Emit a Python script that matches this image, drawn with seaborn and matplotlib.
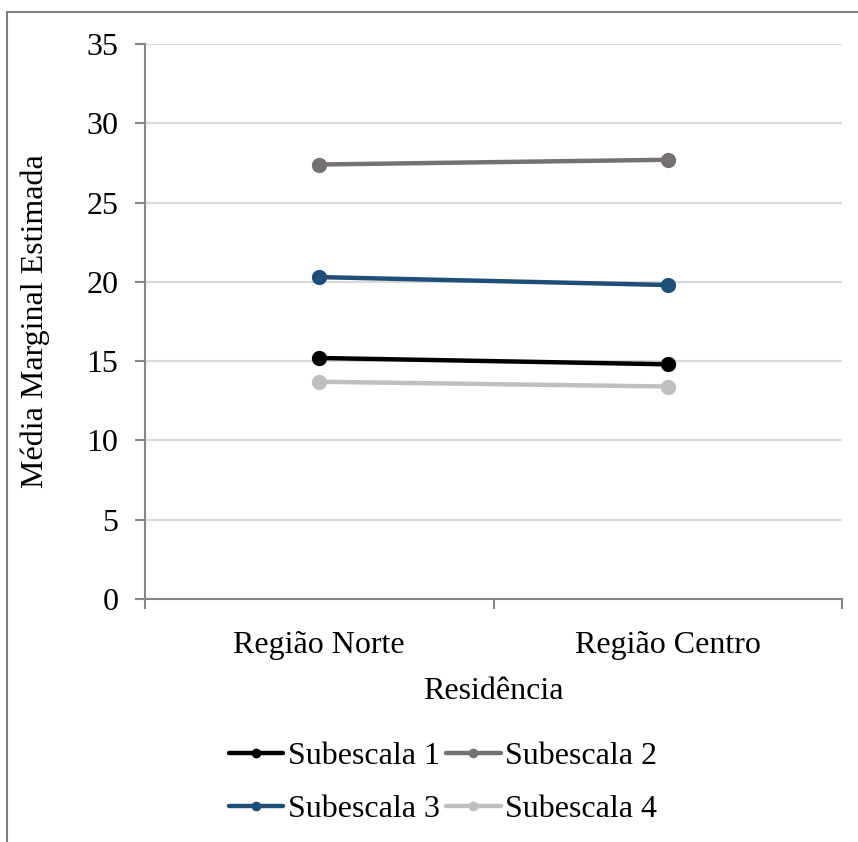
import matplotlib
matplotlib.use("Agg")
import matplotlib.pyplot as plt
from matplotlib.lines import Line2D
from matplotlib.ticker import FixedLocator, MultipleLocator
import seaborn as sns
import pandas as pd

# Estimated marginal means by residence region
regioes = ["Região Norte", "Região Centro"]
subescalas = ["Subescala 1", "Subescala 2", "Subescala 3", "Subescala 4"]
subescala_1 = [15.2, 14.8]
subescala_2 = [27.4, 27.7]
subescala_3 = [20.3, 19.8]
subescala_4 = [13.7, 13.4]
cores = ["#000000", "#767171", "#1F4E79", "#BFBFBF"]

valores = [subescala_1, subescala_2, subescala_3, subescala_4]
df = pd.DataFrame(
    [(r, s, v) for s, vals in zip(subescalas, valores) for r, v in zip(regioes, vals)],
    columns=["Residência", "Subescala", "Média"],
)

sns.set_theme(style="white")
plt.rcParams["font.family"] = ["Liberation Serif", "DejaVu Serif"]
plt.rcParams["font.size"] = 23
plt.rcParams["text.color"] = "black"
plt.rcParams["axes.labelcolor"] = "black"

fig = plt.figure(figsize=(8.58, 8.42), dpi=100)
ax = fig.add_axes([145 / 858, 1 - 599 / 842, (842 - 145) / 858, (599 - 44) / 842])

sns.lineplot(
    data=df, x="Residência", y="Média", hue="Subescala", hue_order=subescalas,
    palette=cores, marker="o", markersize=11, markeredgewidth=0, linewidth=3.2,
    ax=ax, legend=False, sort=False,
)

axis_col = "#868686"
ax.set_xlim(-0.5, 1.5)
ax.set_ylim(0, 35)
ax.yaxis.set_major_locator(MultipleLocator(5))
ax.set_xticks([0, 1])
ax.set_xticklabels(regioes)
ax.xaxis.set_minor_locator(FixedLocator([-0.5, 0.5, 1.5]))
ax.tick_params(axis="x", which="major", length=0, pad=23, labelsize=23, labelcolor="black")
ax.tick_params(axis="x", which="minor", length=7, width=1.5, color=axis_col, direction="out", bottom=True)
ax.tick_params(axis="y", which="major", length=7, width=1.5, color=axis_col, direction="out",
               left=True, pad=12, labelsize=23, labelcolor="black")

ax.grid(axis="y", color="#D9D9D9", linewidth=1.5)
ax.set_axisbelow(True)
for side in ["top", "right"]:
    ax.spines[side].set_visible(False)
for side in ["left", "bottom"]:
    ax.spines[side].set_color(axis_col)
    ax.spines[side].set_linewidth(1.5)

ax.set_xlabel("Residência", fontsize=23, labelpad=12, color="black")
ax.set_ylabel("Média Marginal Estimada", fontsize=23, labelpad=26, color="black")

handles = {s: Line2D([0], [0], color=c, lw=3.2, marker="o", markersize=7, markeredgewidth=0)
           for s, c in zip(subescalas, cores)}
# legend fills column-wise; order entries so rows read 1-2 / 3-4
ordem = [subescalas[0], subescalas[2], subescalas[1], subescalas[3]]
fig.legend([handles[s] for s in ordem], ordem, loc="center",
           bbox_to_anchor=(443 / 858, 1 - 783 / 842),
           ncol=2, frameon=False, fontsize=23, handlelength=1.7, handletextpad=0.15,
           columnspacing=0.2, labelspacing=0.75, borderpad=0)

# Chart-area frame
frame_col = "#7F7F7F"
fig.add_artist(Line2D([7 / 858, 1], [1 - 12 / 842, 1 - 12 / 842], color=frame_col, lw=1.5,
                      transform=fig.transFigure))
fig.add_artist(Line2D([7 / 858, 7 / 858], [0, 1 - 12 / 842], color=frame_col, lw=1.5,
                      transform=fig.transFigure))

fig.savefig("out.png", dpi=100, facecolor="white")
